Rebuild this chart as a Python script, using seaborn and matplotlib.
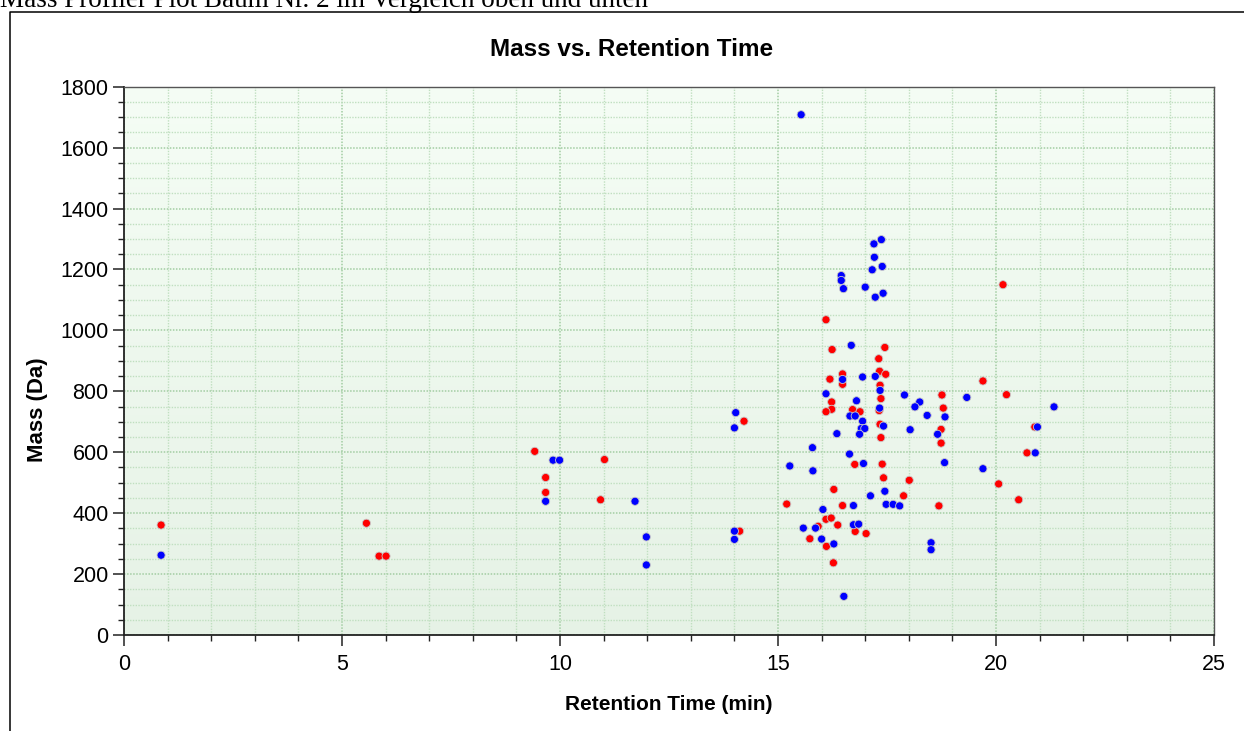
import numpy as np
import pandas as pd
import matplotlib
matplotlib.use("Agg")
import matplotlib.pyplot as plt
import seaborn as sns
from matplotlib.ticker import MultipleLocator
from matplotlib.colors import LinearSegmentedColormap
from matplotlib.lines import Line2D

# values
red_time = [0.85, 5.56, 5.85, 6.01, 9.42, 11.02, 9.67, 9.67, 10.93, 14.22,
            14.12, 16.10, 16.24, 17.45, 17.31, 17.33, 17.47, 16.48, 16.48, 16.19,
            17.34, 17.36, 16.23, 16.23, 16.10, 16.71, 16.88, 17.32, 17.34, 17.36,
            16.76, 17.39, 17.42, 18.01, 16.28, 17.88, 15.20, 16.48, 16.10, 16.22,
            16.37, 16.77, 17.02, 15.92, 15.73, 16.11, 16.27, 20.16, 19.70, 18.76,
            20.24, 18.79, 18.74, 18.74, 20.89, 20.71, 20.06, 18.69, 20.52]
red_mass = [361, 367, 259, 259, 603, 576, 517, 468, 444, 702,
            341, 1035, 937, 944, 907, 866, 856, 857, 823, 840,
            820, 776, 765, 741, 733, 740, 733, 737, 692, 648,
            560, 561, 516, 508, 478, 457, 430, 425, 380, 384,
            361, 340, 333, 357, 316, 291, 237, 1150, 834, 788,
            789, 745, 675, 630, 683, 598, 496, 424, 444]

blue_time = [0.85, 9.84, 9.99, 9.67, 11.72, 11.98, 11.98, 14.03, 14.00, 14.00,
             14.00, 15.53, 17.37, 17.20, 17.21, 17.39, 17.16, 16.45, 16.45, 16.50,
             17.00, 17.23, 17.41, 16.68, 16.48, 16.94, 17.23, 17.34, 16.10, 16.80,
             17.90, 17.33, 16.65, 16.77, 16.94, 16.91, 16.99, 16.87, 16.35, 17.42,
             18.03, 15.79, 16.64, 16.96, 15.27, 15.80, 17.45, 17.12, 16.73, 17.48,
             17.64, 17.79, 16.03, 16.73, 16.85, 15.58, 15.86, 16.00, 16.28, 16.51,
             19.33, 18.25, 18.14, 21.33, 18.42, 18.83, 18.66, 20.95, 20.90, 18.82,
             19.70, 18.51, 18.51]
blue_mass = [262, 574, 574, 439, 439, 322, 230, 730, 680, 341,
             314, 1708, 1298, 1284, 1240, 1210, 1199, 1180, 1164, 1137,
             1142, 1109, 1122, 951, 839, 847, 849, 803, 792, 769,
             788, 745, 719, 719, 702, 678, 678, 659, 661, 686,
             674, 615, 594, 563, 555, 539, 472, 457, 425, 429,
             429, 424, 412, 362, 364, 351, 351, 315, 299, 127,
             780, 765, 749, 749, 721, 716, 659, 683, 598, 566,
             546, 303, 280]

x_ticks = [0, 5, 10, 15, 20, 25]
y_ticks = [0, 200, 400, 600, 800, 1000, 1200, 1400, 1600, 1800]


def main():
    sns.set_theme(style="white")
    plt.rcParams["font.family"] = ["Liberation Sans", "DejaVu Sans"]
    plt.rcParams["text.color"] = "black"
    plt.rcParams["xtick.color"] = "black"
    plt.rcParams["ytick.color"] = "black"

    df = pd.DataFrame({
        "time": red_time + blue_time,
        "mass": red_mass + blue_mass,
        "series": ["red"] * len(red_time) + ["blue"] * len(blue_time),
    })

    fig = plt.figure(figsize=(12.44, 7.31), dpi=100)
    ax = fig.add_axes([0.0997, 0.1313, 0.8762, 0.7501])

    # pale green gradient behind the plot
    cmap = LinearSegmentedColormap.from_list("bg", ["#e6f2e6", "#f5fdf5"])
    ax.imshow(np.linspace(0, 1, 256).reshape(-1, 1), extent=[0, 1, 0, 1],
              transform=ax.transAxes, aspect="auto", cmap=cmap,
              origin="lower", zorder=0)

    sns.scatterplot(data=df, x="time", y="mass", hue="series",
                    palette={"red": "#ff0000", "blue": "#0000ff"},
                    s=34, edgecolor="#c8c8c8", linewidth=0.6,
                    legend=False, ax=ax, zorder=3)

    ax.set_xlim(0, 25)
    ax.set_ylim(0, 1800)
    ax.set_xticks(x_ticks)
    ax.set_yticks(y_ticks)
    ax.xaxis.set_minor_locator(MultipleLocator(1))
    ax.yaxis.set_minor_locator(MultipleLocator(50))

    ax.grid(which="major", color="#a3cda3", linestyle=(0, (1, 1)), lw=1.1, zorder=1)
    ax.grid(which="minor", color="#c0dfc0", linestyle=(0, (1, 1)), lw=1.0, zorder=1)
    ax.set_axisbelow(True)

    ax.tick_params(which="major", direction="out", length=8, width=1.1,
                   color="#222222", labelsize=15.5, labelcolor="black",
                   bottom=True, left=True)
    ax.tick_params(axis="x", which="major", pad=6)
    ax.tick_params(axis="y", which="major", pad=3)
    ax.tick_params(which="minor", direction="out", length=4, width=1.0,
                   color="#222222", bottom=True, left=True)

    for side in ["left", "bottom"]:
        ax.spines[side].set_color("#222222")
        ax.spines[side].set_linewidth(1.3)
    for side in ["top", "right"]:
        ax.spines[side].set_color("#555555")
        ax.spines[side].set_linewidth(1.0)

    ax.set_xlabel("")
    ax.set_ylabel("")
    fig.text(0.5378, 0.036, "Retention Time (min)", ha="center", va="center",
             fontsize=15, fontweight="bold", color="black")
    fig.text(0.030, 0.44, "Mass (Da)", ha="center", va="center",
             rotation=90, fontsize=16, fontweight="bold", color="black")
    fig.text(0.508, 0.932, "Mass vs. Retention Time", ha="center", va="center",
             fontsize=17.5, fontweight="bold", color="black")

    # page header and frame around the chart
    fig.text(0.0, 1 - 7 / 731, "Mass Profiler Plot Baum Nr. 2 im Vergleich oben und unten",
             ha="left", va="baseline", fontsize=19.5, family="Liberation Serif",
             color="black")
    fig.add_artist(Line2D([9.5 / 1244, 9.5 / 1244, 1.0],
                          [0.0, 1 - 12.3 / 731, 1 - 12.3 / 731],
                          transform=fig.transFigure, color="black", lw=1.1))

    fig.savefig("out.png", dpi=100)
    plt.close(fig)


if __name__ == "__main__":
    main()
